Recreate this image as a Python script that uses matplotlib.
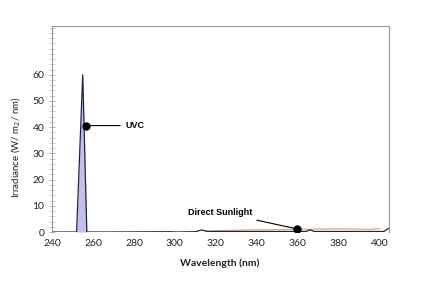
import matplotlib.pyplot as plt
from matplotlib.ticker import MultipleLocator

plt.rcParams["font.family"] = ["Lato", "DejaVu Sans"]

# UVC lamp spectrum (nm, W/m2/nm)
uvc_wl = [240, 252, 255, 257, 270, 298, 300, 310, 313, 316, 330, 350, 364, 366, 368, 390, 402, 404.5]
uvc_irr = [0, 0, 60, 0, 0, 0.1, 0, 0.1, 0.8, 0.2, 0.2, 0.2, 0.2, 0.8, 0.2, 0.2, 0.2, 1.5]

# Direct sunlight spectrum
sun_wl = [315, 320, 330, 340, 350, 360, 370, 380, 390, 395, 400]
sun_irr = [0.3, 0.5, 0.7, 0.8, 0.9, 1.0, 1.1, 1.2, 1.1, 1.0, 1.3]

x_ticks = [240, 260, 280, 300, 320, 340, 360, 380, 400]
y_ticks = [0, 10, 20, 30, 40, 50, 60]

fig = plt.figure(figsize=(4.23, 2.88), dpi=100)
ax = fig.add_axes([52 / 423, (288 - 232) / 288, (389 - 52) / 423, (232 - 26) / 288])

ax.fill_between(uvc_wl[:5], uvc_irr[:5], color="#c4c0ec", linewidth=0)
ax.plot(sun_wl, sun_irr, color="#e6a977", linewidth=0.9)
ax.plot(uvc_wl, uvc_irr, color="#1d2545", linewidth=0.9)

ax.set_xlim(240, 404.5)
ax.set_ylim(0, 78.6)
ax.set_xticks(x_ticks)
ax.set_yticks(y_ticks)
ax.yaxis.set_minor_locator(MultipleLocator(2))
ax.tick_params(axis="x", length=0, labelsize=7.5, pad=5, colors="#222222")
ax.tick_params(axis="y", which="major", direction="inout", length=5, width=0.6,
               color="#aaaaaa", labelsize=7.5, labelcolor="#222222", pad=3)
ax.tick_params(axis="y", which="minor", direction="inout", length=4, width=0.5, color="#bbbbbb")

for side in ["left", "top", "right"]:
    ax.spines[side].set_color("#999999")
    ax.spines[side].set_linewidth(0.8)
ax.spines["bottom"].set_visible(False)

ax.set_ylabel("Irradiance (W/ m$_2$/ nm)", fontsize=7, color="#222222")
ax.yaxis.set_label_coords(-0.085, 0.41)
fig.text(180 / 423, 1 - 263 / 288, "Wavelength (nm)", fontsize=7.5, fontweight="bold",
         color="#222222", ha="left", va="center")

# annotations
note_font = dict(fontsize=6.5, fontweight="bold", family=["Liberation Sans", "DejaVu Sans"])
ax.plot([256.4], [40.6], "o", color="black", markersize=5)
ax.annotate("UVC", xy=(256.4, 40.6), xytext=(276, 40.6), va="center", ha="left",
            arrowprops=dict(arrowstyle="-", color="black", linewidth=0.8, shrinkA=2, shrinkB=0),
            **note_font)
ax.plot([359.5], [1.2], "o", color="black", markersize=5)
ax.annotate("Direct Sunlight", xy=(359.5, 1.2), xytext=(338, 7.5), va="center", ha="right",
            arrowprops=dict(arrowstyle="-", color="black", linewidth=0.8, shrinkA=2, shrinkB=0),
            **note_font)

fig.savefig("out.png", dpi=100)
